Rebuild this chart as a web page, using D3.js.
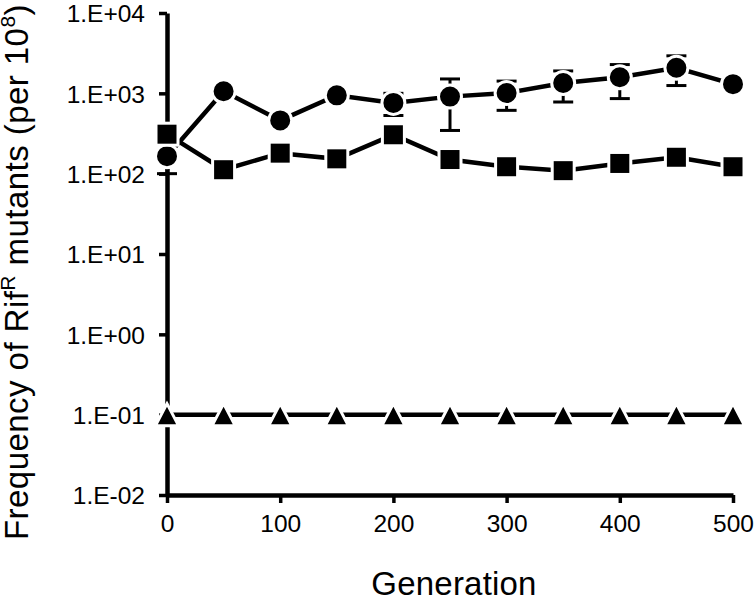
<!DOCTYPE html>
<html>
<head>
<meta charset="utf-8">
<script src="https://cdn.jsdelivr.net/npm/d3@7"></script>
<style>
  html, body { margin: 0; padding: 0; background: #fff; }
  svg { display: block; }
  text { font-family: "Liberation Sans", Arial, sans-serif; fill: #000; }
</style>
</head>
<body>
<svg id="chart" width="756" height="602"></svg>
<script>
// ---- Data ----
const generations = [0, 50, 100, 150, 200, 250, 300, 350, 400, 450, 500];
const circleValues = [165, 1060, 460, 945, 760, 910, 1010, 1345, 1585, 2080, 1300];
const circleUpper  = [280, null, null, null, 1000, 1510, 1420, 1900, 2280, 2930, null];
const circleLower  = [100, null, null, null, 530, 345, 614, 780, 860, 1250, null];
const squareValues = [310, 112, 180, 153, 305, 150, 122, 109, 134, 160, 122];
const triangleValues = [0.1, 0.1, 0.1, 0.1, 0.1, 0.1, 0.1, 0.1, 0.1, 0.1, 0.1];
const xTicks = [0, 100, 200, 300, 400, 500];
const yTicks = [1e-2, 1e-1, 1e0, 1e1, 1e2, 1e3, 1e4];
const yTickLabels = ["1.E-02", "1.E-01", "1.E+00", "1.E+01", "1.E+02", "1.E+03", "1.E+04"];

const svg = d3.select("#chart");
const x = d3.scaleLinear().domain([0, 500]).range([167, 733]);
const y = d3.scaleLog().domain([1e-2, 1e4]).range([495, 13]);

// ---- Axes ----
const yAxis = d3.axisLeft(y).tickValues(yTicks)
  .tickFormat((d, i) => yTickLabels[i]).tickSizeInner(8).tickSizeOuter(0).tickPadding(14);
const gy = svg.append("g").attr("transform", `translate(${x(0)},0)`).call(yAxis);
gy.select(".domain").attr("stroke", "#000").attr("stroke-width", 4.5);
gy.selectAll(".tick line").attr("stroke", "#000").attr("stroke-width", 3.5);
gy.selectAll(".tick text").style("font-size", "24.5px").attr("dy", "0.36em");

const xAxis = d3.axisBottom(x).tickValues(xTicks).tickSizeInner(8).tickSizeOuter(0).tickPadding(12);
const gx = svg.append("g").attr("transform", `translate(0,${y(1e-2)})`).call(xAxis);
gx.select(".domain").attr("stroke", "#000").attr("stroke-width", 4.5);
gx.selectAll(".tick line").attr("stroke", "#000").attr("stroke-width", 3.5);
gx.selectAll(".tick text").style("font-size", "24.5px");

// ---- Titles ----
svg.append("text")
  .attr("x", 454).attr("y", 595)
  .attr("text-anchor", "middle")
  .style("font-size", "33px").style("letter-spacing", "0.2px")
  .text("Generation");

const yt = svg.append("text")
  .attr("transform", "translate(28,272) rotate(-90)")
  .attr("text-anchor", "middle")
  .style("font-size", "33px").style("letter-spacing", "0.45px");
yt.append("tspan").text("Frequency of Rif");
yt.append("tspan").attr("dy", -13).style("font-size", "21px").text("R");
yt.append("tspan").attr("dy", 13).text(" mutants (per 10");
yt.append("tspan").attr("dy", -13).style("font-size", "21px").text("8");
yt.append("tspan").attr("dy", 13).text(")");

// ---- Error bars (circle series) ----
const eb = svg.append("g");
generations.forEach((g, i) => {
  const cx = x(g);
  [circleUpper[i], circleLower[i]].forEach(v => {
    if (v == null) return;
    eb.append("line").attr("x1", cx).attr("x2", cx)
      .attr("y1", y(circleValues[i])).attr("y2", y(v))
      .attr("stroke", "#000").attr("stroke-width", 3);
    eb.append("line").attr("x1", cx - 10).attr("x2", cx + 10)
      .attr("y1", y(v)).attr("y2", y(v))
      .attr("stroke", "#000").attr("stroke-width", 3);
  });
});

// ---- Series ----
const line = d3.line().x(d => x(d[0])).y(d => y(d[1]));
function drawSeries(values, shape) {
  const pts = generations.map((g, i) => [g, values[i]]);
  svg.append("path").datum(pts).attr("d", line)
    .attr("fill", "none").attr("stroke", "#000").attr("stroke-width", 4.5);
  const g = svg.append("g");
  pts.forEach(p => {
    const cx = x(p[0]), cy = y(p[1]);
    let el;
    if (shape === "circle") {
      el = g.append("circle").attr("cx", cx).attr("cy", cy).attr("r", 11.5);
    } else if (shape === "square") {
      el = g.append("rect").attr("x", cx - 11).attr("y", cy - 11).attr("width", 22).attr("height", 22);
    } else {
      const w = 11.5, h = 11;
      el = g.append("path").attr("d", `M${cx},${cy - h}L${cx + w},${cy + h}L${cx - w},${cy + h}Z`);
    }
    el.attr("fill", "#000").attr("stroke", "#fff").attr("stroke-width", 3);
  });
}
drawSeries(circleValues, "circle");
drawSeries(squareValues, "square");
drawSeries(triangleValues, "triangle");
</script>
</body>
</html>
